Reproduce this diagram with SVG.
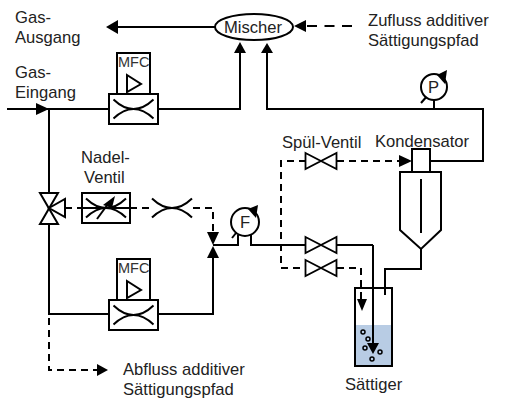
<svg xmlns="http://www.w3.org/2000/svg" width="511" height="409" viewBox="0 0 511 409">
<style>
text{font-family:"Liberation Sans",Arial,sans-serif;font-size:16.6px;fill:#222}
.s{fill:none;stroke:#000;stroke-width:2}
.f{fill:#fff;stroke:#000;stroke-width:2}
.d{fill:none;stroke:#000;stroke-width:2;stroke-dasharray:7 5}
.a{fill:#000;stroke:none}
</style>
<defs>
<g id="restrict"><path class="s" d="M-20-9.500Q0 9.500 20-9.500M-20 9.500Q0-9.500 20 9.500"/></g>
<g id="valve"><path class="f" d="M-15.500-8L15.500 8V-8L-15.500 8Z" style="stroke-width:1.800"/></g>
<g id="mfc"><rect class="f" x="8" y="0" width="33" height="41"/><rect class="f" x="0" y="41" width="49" height="30"/><path class="f" d="M18 22L32 31L18 39Z"/><use href="#restrict" x="24.500" y="56"/><text x="9" y="14" style="font-size:14.500px;fill:#333">MFC</text></g>
</defs>
<rect width="511" height="409" fill="#fff"/>
<g id="connectors">
<path class="s" d="M7 109H240V50"/>
<path class="s" d="M49 109V193M49 224V314H213V256"/>
<path class="s" d="M215 27H118"/>
<path class="s" d="M267 50V109H483V161H430"/>
<path class="s" d="M434 100V109"/>
<path class="s" d="M213 245H238V235M251 235V245H306M337 245H373"/>
<path class="s" d="M421 249V269H385V295"/>
<path class="d" d="M352 26H304" style="stroke-dasharray:10 7.500"/>
<path class="d" d="M65 208H82M130 208H152M193 208H213V234"/>
<path class="d" d="M49 318V370H98"/>
<path class="d" d="M306 161H281V268H306M337 161H402M337 268H361V300"/>
<path class="a" d="M106 27L118 20V34Z"/>
<path class="a" d="M240 42L246 53H234Z"/>
<path class="a" d="M294 26L306 20V32Z"/>
<path class="a" d="M267 43L273 53H261Z"/>
<path class="a" d="M49 109L36 103V115Z"/>
<path class="a" d="M213 245L207 232H219Z"/>
<path class="a" d="M213 246L207 258H219Z"/>
<path class="a" d="M108 370L97 364V376Z"/>
<path class="a" d="M412 161L399 155V167Z"/>
</g>
<g id="mischer"><ellipse class="f" cx="254" cy="27" rx="39" ry="13"/><text x="224" y="33">Mischer</text></g>
<g id="mfc1"><use href="#mfc" x="109" y="53"/></g>
<g id="mfc2"><use href="#mfc" x="109" y="259"/></g>
<g id="drei-wege-ventil"><path class="f" d="M40 193H58L40 224H58Z"/><path class="f" d="M49 208L65 199V217Z"/></g>
<g id="nadel-ventil"><rect class="f" x="82" y="193" width="48" height="30"/><path class="s" d="M82 208H130"/><use href="#restrict" x="106" y="208"/><path class="s" d="M97 219L108 204"/><path class="a" d="M115 196L103 205L112 208Z"/></g>
<g id="drossel"><use href="#restrict" x="172" y="208"/></g>
<g id="durchfluss"><path class="s" d="M232 238L240 228"/><circle class="f" cx="245" cy="222" r="14"/><text x="240" y="228">F</text><path class="a" d="M258 205L248 209L256 218Z"/></g>
<g id="druck"><path class="s" d="M421 103L428 95"/><circle class="f" cx="434" cy="87" r="13"/><text x="428" y="93">P</text><path class="a" d="M447 70L437 75L445 84Z"/></g>
<g id="spuel-ventil"><use href="#valve" x="321" y="161"/></g>
<g id="ventil2"><use href="#valve" x="321" y="245"/></g>
<g id="ventil3"><use href="#valve" x="321" y="268"/></g>
<g id="kondensator"><path class="f" d="M412 172V149H430V172"/><path class="f" d="M400 172H441V230L421 249L400 230Z"/><path class="s" d="M421 179V233"/></g>
<g id="saettiger">
<rect x="355" y="325" width="37" height="41" fill="#b8cce4"/>
<path class="s" d="M355 288H392V366H355Z"/>
<path class="s" d="M385 288V295"/>
<path class="s" d="M373 245V345"/>
<path class="a" d="M362 311L357 299H367Z"/>
<path class="a" d="M373 354L367 343H379Z"/>
<g fill="none" stroke="#000" stroke-width="1.500"><circle cx="363" cy="332" r="2"/><circle cx="368" cy="339" r="2"/><circle cx="365" cy="348" r="2"/><circle cx="380" cy="352" r="2"/><circle cx="372" cy="359" r="2"/></g>
</g>
<g id="labels">
<text x="15" y="23">Gas-</text><text x="15" y="43">Ausgang</text>
<text x="15" y="78">Gas-</text><text x="15" y="98">Eingang</text>
<text x="368" y="26">Zufluss additiver</text><text x="368" y="46">Sättigungspfad</text>
<text x="81" y="163">Nadel-</text><text x="84" y="183">Ventil</text>
<text x="282" y="148">Spül-Ventil</text><text x="375" y="147">Kondensator</text>
<text x="123" y="375">Abfluss additiver</text><text x="123" y="395">Sättigungspfad</text>
<text x="345" y="390">Sättiger</text>
</g>
</svg>
